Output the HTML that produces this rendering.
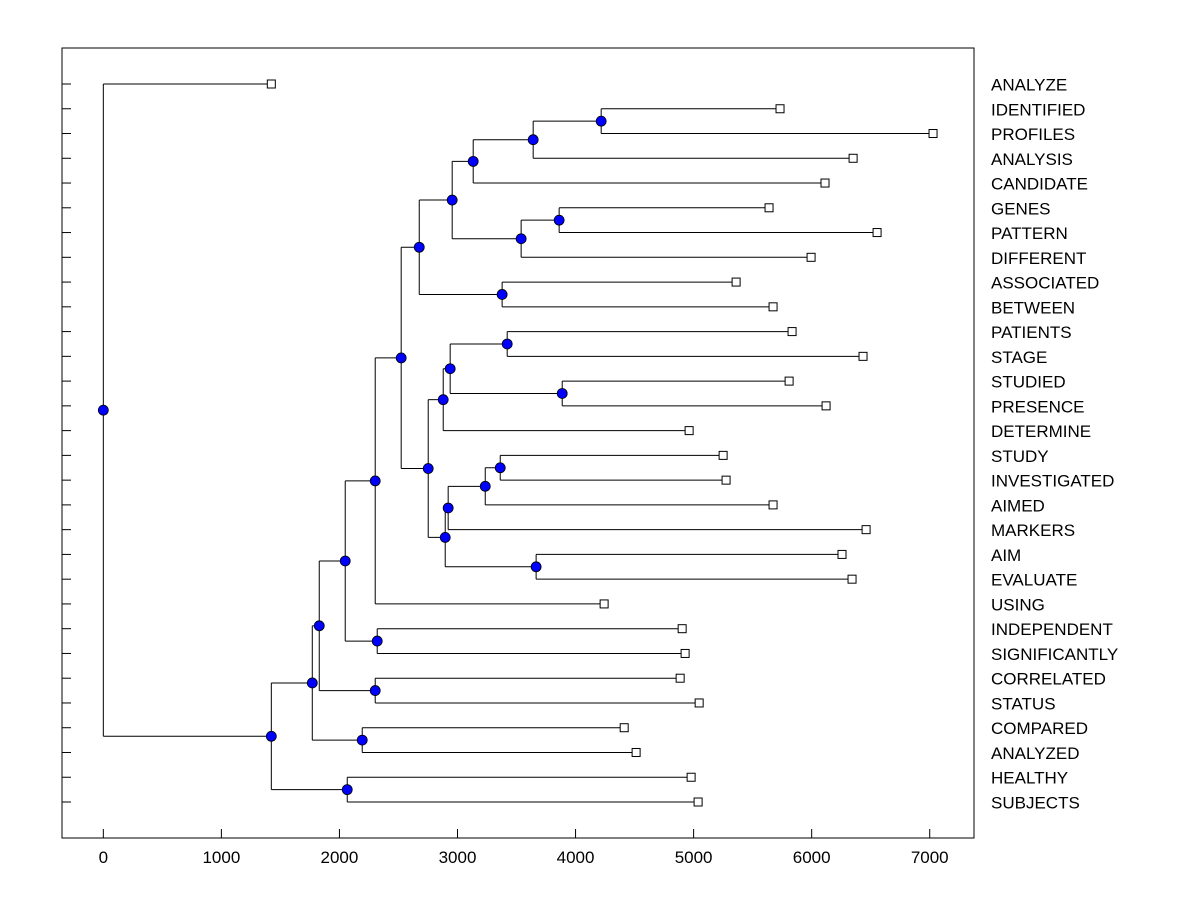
<!DOCTYPE html>
<html><head><meta charset="utf-8"><style>
body{margin:0;background:#fff;}
svg text{font-family:"Liberation Sans",Arial,sans-serif;}
</style></head><body>
<svg id="chart" width="1200" height="900" xmlns="http://www.w3.org/2000/svg"></svg>
<script>
const leafNames=["ANALYZE","IDENTIFIED","PROFILES","ANALYSIS","CANDIDATE","GENES","PATTERN","DIFFERENT","ASSOCIATED","BETWEEN","PATIENTS","STAGE","STUDIED","PRESENCE","DETERMINE","STUDY","INVESTIGATED","AIMED","MARKERS","AIM","EVALUATE","USING","INDEPENDENT","SIGNIFICANTLY","CORRELATED","STATUS","COMPARED","ANALYZED","HEALTHY","SUBJECTS"];
const leafValues=[1423,5732,7028,6351,6113,5639,6554,5995,5360,5673,5834,6435,5809,6122,4962,5250,5275,5673,6461,6257,6342,4242,4903,4928,4886,5047,4412,4513,4979,5038];
const mergeLeft =[1,30,31,5,33,32,8,35,10,12,38,40,15,42,43,19,44,41,37,48,22,49,24,51,26,53,28,55,0];
const mergeRight=[2,3,4,6,7,34,9,36,11,13,39,14,16,17,18,20,45,46,47,21,23,50,25,52,27,54,29,56,57];
const mergeHeight=[4217,3641,3133,3861,3539,2955,3378,2676,3421,3887,2938,2879,3362,3235,2921,3666,2896,2752,2523,2303,2320,2049,2303,1829,2193,1770,2066,1423,0];
const xTicks=[0,1000,2000,3000,4000,5000,6000,7000];

const svg=document.getElementById('chart');
const NS='http://www.w3.org/2000/svg';
const L=62,R=974,T=48,B=838,xMin=-350,xMax=7375;
const xs=v=>L+(v-xMin)/(xMax-xMin)*(R-L);
const rowY=i=>84+i*(802-84)/29;
function mk(tag,attrs){const e=document.createElementNS(NS,tag);for(const k in attrs)e.setAttribute(k,attrs[k]);svg.appendChild(e);return e;}

const frame=mk('rect',{x:L,y:T,width:R-L,height:B-T,fill:'none',stroke:'#000','stroke-width':1});



xTicks.forEach(t=>{
  const tk=mk('line',{x1:xs(t),x2:xs(t),y1:B,y2:B-9,stroke:'#000'});
  
  
  const lb=mk('text',{x:xs(t),y:863,'text-anchor':'middle','font-size':17,fill:'#000'});
  lb.textContent=t;
  
  
});

leafNames.forEach((n,i)=>{
  const tk=mk('line',{x1:L,x2:L+9,y1:rowY(i),y2:rowY(i),stroke:'#000'});
  
  
  const lb=mk('text',{x:991,y:rowY(i)+6.5,'font-size':17,fill:'#000'});
  lb.textContent=n;
  
  
});

const N=leafNames.length;
const posY=[],posX=[];
leafNames.forEach((n,i)=>{posY[i]=rowY(i);posX[i]=xs(leafValues[i]);});
for(let m=0;m<mergeHeight.length;m++){
  const a=mergeLeft[m],b=mergeRight[m],id=N+m;
  const hx=xs(mergeHeight[m]);
  posY[id]=(posY[a]+posY[b])/2;posX[id]=hx;
  const v=mk('line',{x1:hx,x2:hx,y1:posY[a],y2:posY[b],stroke:'#000'});
  
  
  [a,b].forEach(c=>{
    const h=mk('line',{x1:hx,x2:posX[c],y1:posY[c],y2:posY[c],stroke:'#000'});
    
    
  });
}
leafNames.forEach((n,i)=>{
  const s=mk('rect',{x:posX[i]-4,y:posY[i]-4,width:8,height:8,fill:'#fff',stroke:'#000'});
  
  
});
for(let m=0;m<mergeHeight.length;m++){
  const id=N+m;
  const c=mk('circle',{cx:posX[id],cy:posY[id],r:5,fill:'#0000ff',stroke:'#000','stroke-width':0.8});
  
  
}
</script>
</body></html>
